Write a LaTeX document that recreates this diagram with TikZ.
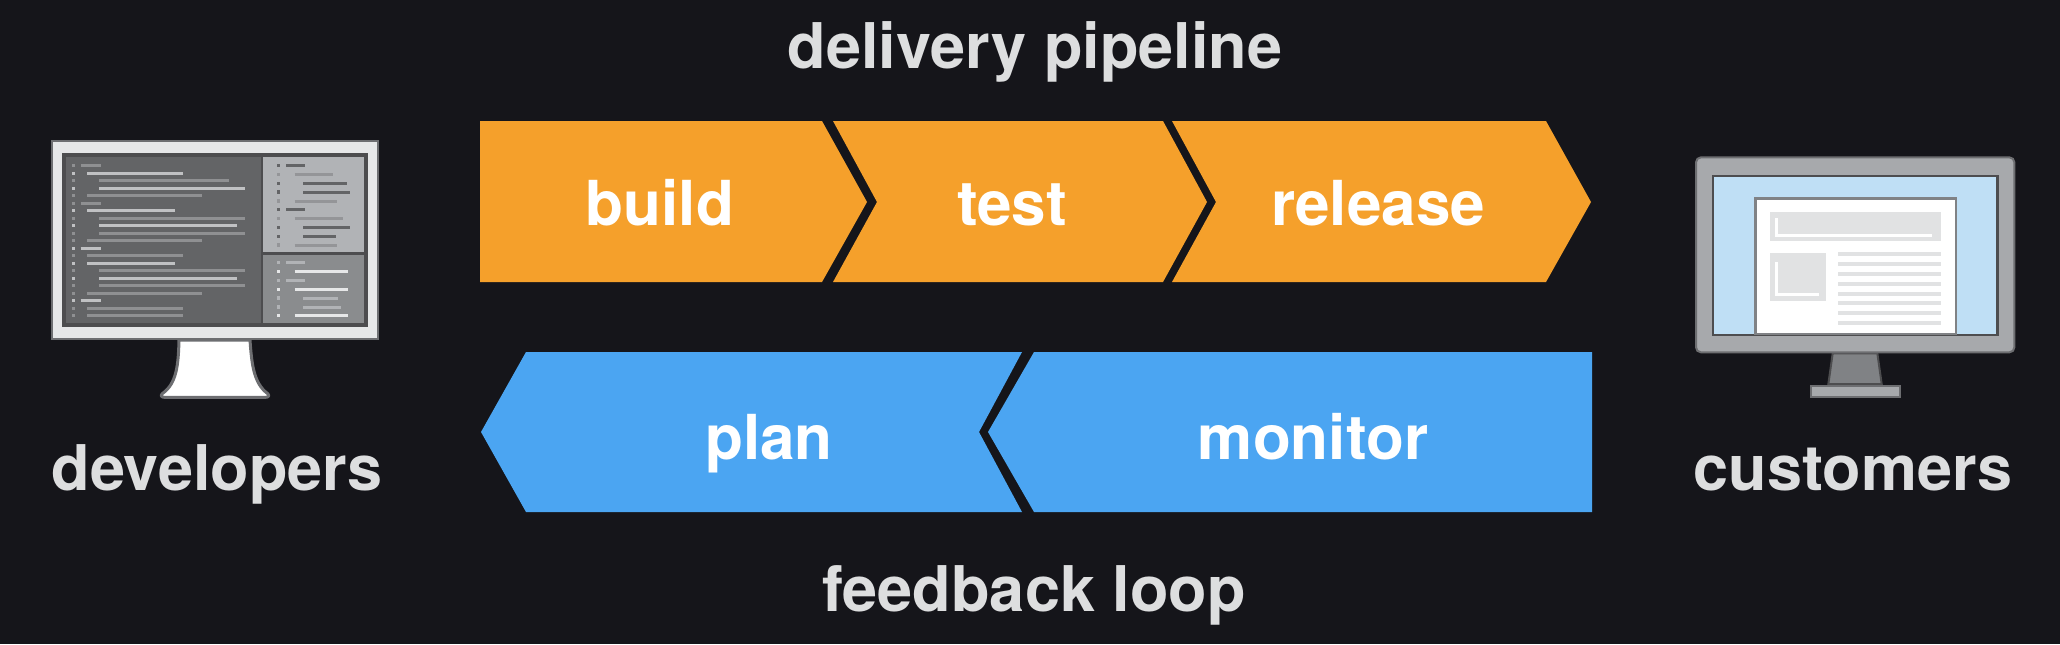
\documentclass[tikz,border=0pt]{standalone}
\usepackage{fontspec}
\setmainfont{TeX Gyre Heros}
\definecolor{bgc}{HTML}{15151A}
\definecolor{orangec}{HTML}{F5A02B}
\definecolor{bluec}{HTML}{4BA5F2}
\definecolor{labelc}{HTML}{DDDEDF}
\definecolor{pale}{HTML}{E6E7E8}
\definecolor{edgea}{HTML}{6D6E71}
\definecolor{edgeb}{HTML}{4D4D4F}
\definecolor{panea}{HTML}{636466}
\definecolor{paneb}{HTML}{B1B3B6}
\definecolor{panec}{HTML}{8A8C8E}
\definecolor{codedim}{HTML}{8F9092}
\definecolor{codebright}{HTML}{C0C1C3}
\definecolor{codelight}{HTML}{949598}
\definecolor{shell}{HTML}{A7A9AC}
\definecolor{sky}{HTML}{BFDFF5}
\definecolor{stone}{HTML}{E1E2E3}
\definecolor{neck}{HTML}{808285}
\tikzset{
  outertext/.style={font=\bfseries\fontsize{31.5}{36}\selectfont,text=labelc,anchor=base,inner sep=0pt},
  innertext/.style={font=\bfseries\fontsize{31}{36}\selectfont,text=white,anchor=base,inner sep=0pt},
  zoomone/.style={xshift=15pt,yshift=-60pt,x=0.16667pt,y=-0.16667pt},
  zoomtwo/.style={xshift=835pt,yshift=-70pt,x=0.16667pt,y=-0.16667pt},
  codeline/.style={line width=1.5pt}
}
% #1 colour, #2 row y, #3 bullet x, #4 line start, #5 line end
\newcommand{\codeitem}[5]{%
  \fill[#1] (#3-5,#2-5) rectangle (#3+5,#2+5);
  \draw[#1,codeline] (#4,#2) -- (#5,#2);}
\begin{document}
\begin{tikzpicture}[x=0.5pt,y=-0.5pt]
\useasboundingbox (0,0) rectangle (2060,644);
\fill[bgc] (0,0) rectangle (2060,644);

% orange chevrons
\fill[orangec] (480,121) -- (822,121) -- (867,202) -- (822,282) -- (480,282) -- cycle;
\fill[orangec] (833,121) -- (1163,121) -- (1207,202) -- (1163,282) -- (833,282) -- (877,202) -- cycle;
\fill[orangec] (1172,121) -- (1546,121) -- (1591,202) -- (1546,282) -- (1172,282) -- (1216,202) -- cycle;
% blue chevrons
\fill[bluec] (481,432) -- (526,352) -- (1022,352) -- (979,432) -- (1022,512) -- (526,512) -- cycle;
\fill[bluec] (988,432) -- (1034,352) -- (1592,352) -- (1592,512) -- (1034,512) -- cycle;

\node[innertext] (build) at (660,225) {build};
\node[innertext] (test) at (1012,225) {test};
\node[innertext] (release) at (1378,225) {release};
\node[innertext] (plan) at (769,459) {plan};
\node[innertext] (monitor) at (1313,459) {monitor};
\node[outertext] (pipeline) at (1035,68) {delivery pipeline};
\node[outertext] (feedback) at (1034,611) {feedback loop};
\node[outertext] (developers) at (217,490) {developers};
\node[outertext] (customers) at (1853,490) {customers};

% developer monitor
\begin{scope}[zoomone]
\draw[draw=edgea,fill=white,line width=1.5pt,line join=round]
  (447,660) .. controls (445,735) and (440,790) .. (398,820)
  .. controls (390,826) and (394,832) .. (404,832) -- (706,832)
  .. controls (716,832) and (720,826) .. (712,820)
  .. controls (672,790) and (665,735) .. (660,660) -- cycle;
\draw[draw=edgea,fill=pale,line width=1pt] (65,62) rectangle (1043,658);
\draw[draw=edgeb,fill=edgeb,line width=1pt] (98,102) rectangle (1010,618);
\fill[panea] (107,110) rectangle (692,610);
\fill[paneb] (700,110) rectangle (1002,395);
\fill[panec] (700,405) rectangle (1002,610);
\foreach \r/\c/\a/\b in {
  137/codedim/152/212, 160/codebright/172/458, 182/codedim/207/597,
  205/codebright/207/645, 227/codedim/172/515, 250/codedim/152/212,
  272/codebright/172/436, 295/codedim/207/645, 317/codebright/207/622,
  340/codedim/207/645, 362/codedim/172/515, 385/codebright/152/212,
  407/codedim/172/458, 430/codebright/172/436, 452/codedim/207/645,
  475/codebright/207/622, 497/codedim/207/645, 520/codedim/172/515,
  542/codebright/152/212, 565/codedim/172/458, 587/codedim/172/458}
  {\codeitem{\c}{\r}{131}{\a}{\b}}
\foreach \r/\c/\a/\b in {
  137/panea/769/825, 163/codelight/794/910, 190/panea/819/950,
  216/panea/819/960, 243/codelight/794/920, 269/panea/769/825,
  296/codelight/794/938, 322/panea/819/960, 349/panea/819/917,
  375/codelight/794/920}
  {\codeitem{\c}{\r}{745}{\a}{\b}}
\foreach \r/\c/\a/\b in {
  428/paneb/769/825, 455/pale/794/955, 481/paneb/769/825,
  508/pale/794/955, 534/paneb/819/923, 561/paneb/819/933,
  587/pale/794/955}
  {\codeitem{\c}{\r}{745}{\a}{\b}}
\end{scope}

% customer monitor
\begin{scope}[zoomtwo]
\draw[draw=edgeb,fill=neck,line width=1pt] (488,640) -- (622,640) -- (635,732) -- (475,732) -- cycle;
\draw[draw=edgea,fill=shell,line width=1pt] (422,738) rectangle (690,772);
\draw[draw=edgea,fill=shell,line width=1pt,rounded corners=2.5pt] (78,52) rectangle (1033,637);
\draw[draw=edgeb,fill=sky,line width=1.4pt] (129,108) rectangle (982,585);
\draw[draw=neck,fill=white,line width=1.4pt] (257,175) rectangle (858,582);
\fill[stone] (300,215) rectangle (812,303);
\draw[white,line width=1.5pt] (320,235) -- (320,285) -- (785,285);
\fill[stone] (300,338) rectangle (469,484);
\draw[white,line width=1.5pt] (320,367) -- (320,462) -- (448,462);
\foreach \r in {343,372,402,431,461,490,519,549}
  \fill[stone] (505,\r-6) rectangle (812,\r+6);
\end{scope}
\end{tikzpicture}
\end{document}
